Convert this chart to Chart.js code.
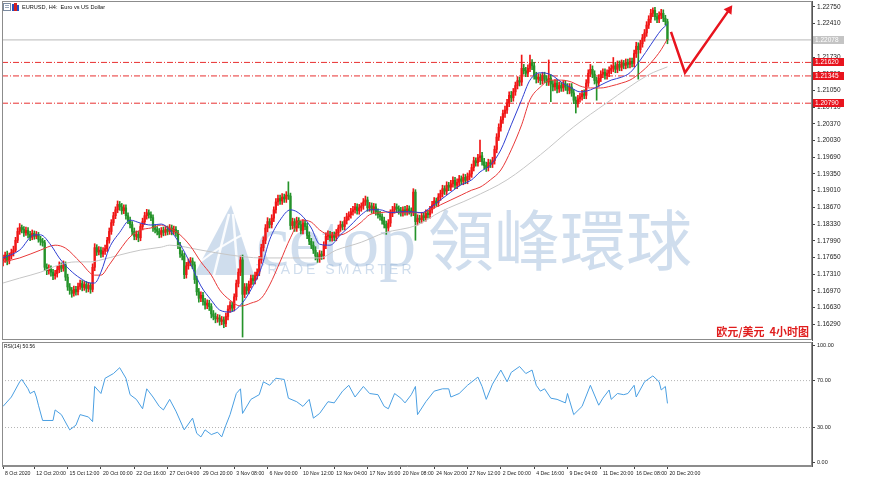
<!DOCTYPE html>
<html><head><meta charset="utf-8">
<script src="https://cdn.jsdelivr.net/npm/chart.js@4.4.1/dist/chart.umd.min.js"></script>
<style>
html,body{margin:0;padding:0;background:#fff;}
#wrap{position:relative;width:870px;height:478px;overflow:hidden;background:#fff;}
canvas{position:absolute;left:0;}
#c1{top:0;} #c2{top:341px;}
</style></head><body>
<div id="wrap">
<canvas id="c1" width="870" height="341"></canvas>
<canvas id="c2" width="870" height="137"></canvas>
</div>
<script>
// ---------------- DATA ----------------
const opens = [
1.1758,1.1762,1.1770,1.1758,1.1768,1.1775,1.1780,1.1800,1.1818,1.1826,
1.1822,1.1815,1.1820,1.1812,1.1806,1.1814,1.1808,1.1811,1.1802,1.1798,
1.1795,1.1745,1.1738,1.1742,1.1735,1.1728,1.1732,1.1740,1.1748,1.1743,
1.1750,1.1725,1.1705,1.1698,1.1692,1.1700,1.1695,1.1706,1.1712,1.1704,
1.1710,1.1702,1.1708,1.1700,1.1745,1.1785,1.1776,1.1780,1.1772,1.1778,
1.1783,1.1800,1.1818,1.1836,1.1850,1.1862,1.1873,1.1868,1.1860,1.1866,
1.1850,1.1840,1.1832,1.1818,1.1808,1.1812,1.1805,1.1828,1.1838,1.1850,
1.1856,1.1852,1.1846,1.1825,1.1822,1.1818,1.1812,1.1820,1.1816,1.1822,
1.1818,1.1825,1.1818,1.1822,1.1815,1.1790,1.1772,1.1768,1.1730,1.1748,
1.1755,1.1758,1.1750,1.1720,1.1695,1.1682,1.1688,1.1675,1.1668,1.1672,
1.1665,1.1650,1.1645,1.1640,1.1642,1.1635,1.1638,1.1630,1.1645,1.1660,
1.1668,1.1662,1.1685,1.1712,1.1735,1.1760,1.1690,1.1705,1.1698,1.1710,
1.1722,1.1718,1.1728,1.1735,1.1760,1.1785,1.1800,1.1825,1.1838,1.1832,
1.1845,1.1862,1.1878,1.1885,1.1880,1.1888,1.1884,1.1892,1.1890,1.1830,
1.1838,1.1825,1.1840,1.1832,1.1820,1.1835,1.1828,1.1810,1.1798,1.1790,
1.1780,1.1768,1.1762,1.1772,1.1768,1.1790,1.1808,1.1812,1.1805,1.1810,
1.1806,1.1815,1.1825,1.1832,1.1828,1.1840,1.1848,1.1852,1.1858,1.1862,
1.1868,1.1860,1.1866,1.1870,1.1878,1.1882,1.1866,1.1870,1.1862,1.1868,
1.1858,1.1852,1.1848,1.1840,1.1832,1.1825,1.1835,1.1855,1.1862,1.1868,
1.1864,1.1860,1.1856,1.1862,1.1858,1.1864,1.1860,1.1856,1.1898,1.1838,
1.1845,1.1842,1.1850,1.1846,1.1855,1.1852,1.1862,1.1872,1.1880,1.1876,
1.1888,1.1895,1.1905,1.1900,1.1912,1.1908,1.1915,1.1922,1.1912,1.1918,
1.1925,1.1920,1.1928,1.1922,1.1930,1.1935,1.1948,1.1962,1.1958,1.1968,
1.1972,1.1960,1.1952,1.1948,1.1958,1.1955,1.1962,1.1985,1.2010,1.2030,
1.2045,1.2058,1.2065,1.2080,1.2095,1.2090,1.2102,1.2115,1.2125,1.2122,
1.2150,1.2145,1.2140,1.2150,1.2160,1.2155,1.2135,1.2128,1.2132,1.2125,
1.2135,1.2128,1.2122,1.2130,1.2118,1.2112,1.2120,1.2108,1.2115,1.2110,
1.2118,1.2112,1.2105,1.2112,1.2100,1.2085,1.2078,1.2088,1.2092,1.2098,
1.2095,1.2120,1.2140,1.2148,1.2138,1.2125,1.2120,1.2130,1.2138,1.2142,
1.2135,1.2140,1.2146,1.2150,1.2155,1.2148,1.2158,1.2152,1.2160,1.2156,
1.2162,1.2158,1.2164,1.2160,1.2180,1.2195,1.2188,1.2200,1.2212,1.2222,
1.2238,1.2250,1.2262,1.2268,1.2255,1.2250,1.2258,1.2262,1.2252,1.2245];

const highs = [
1.1770,1.1776,1.1778,1.1774,1.1782,1.1788,1.1806,1.1825,1.1834,1.1831,
1.1828,1.1827,1.1826,1.1818,1.1821,1.1819,1.1818,1.1816,1.1808,1.1804,
1.1800,1.1752,1.1750,1.1748,1.1741,1.1739,1.1747,1.1756,1.1754,1.1758,
1.1756,1.1731,1.1712,1.1704,1.1707,1.1706,1.1713,1.1719,1.1718,1.1716,
1.1716,1.1714,1.1713,1.1752,1.1793,1.1791,1.1787,1.1786,1.1785,1.1790,
1.1806,1.1825,1.1842,1.1857,1.1868,1.1880,1.1879,1.1875,1.1872,1.1872,
1.1856,1.1847,1.1838,1.1825,1.1819,1.1818,1.1834,1.1845,1.1857,1.1863,
1.1862,1.1858,1.1852,1.1831,1.1828,1.1824,1.1826,1.1827,1.1828,1.1829,
1.1832,1.1831,1.1829,1.1828,1.1820,1.1796,1.1779,1.1774,1.1755,1.1762,
1.1765,1.1764,1.1756,1.1727,1.1702,1.1695,1.1694,1.1682,1.1679,1.1678,
1.1671,1.1657,1.1652,1.1649,1.1648,1.1645,1.1644,1.1652,1.1667,1.1675,
1.1674,1.1691,1.1719,1.1742,1.1768,1.1770,1.1712,1.1712,1.1717,1.1729,
1.1729,1.1735,1.1742,1.1767,1.1792,1.1807,1.1832,1.1846,1.1844,1.1852,
1.1868,1.1885,1.1892,1.1892,1.1895,1.1894,1.1899,1.1919,1.1896,1.1845,
1.1844,1.1847,1.1846,1.1839,1.1842,1.1841,1.1835,1.1817,1.1804,1.1797,
1.1787,1.1775,1.1779,1.1778,1.1797,1.1815,1.1819,1.1818,1.1816,1.1817,
1.1822,1.1831,1.1839,1.1838,1.1847,1.1855,1.1858,1.1865,1.1869,1.1875,
1.1874,1.1873,1.1876,1.1885,1.1890,1.1888,1.1877,1.1876,1.1875,1.1874,
1.1864,1.1859,1.1854,1.1847,1.1839,1.1842,1.1862,1.1869,1.1875,1.1874,
1.1870,1.1867,1.1868,1.1869,1.1871,1.1870,1.1866,1.1905,1.1903,1.1852,
1.1851,1.1857,1.1856,1.1862,1.1861,1.1869,1.1879,1.1887,1.1886,1.1895,
1.1902,1.1912,1.1911,1.1919,1.1918,1.1922,1.1929,1.1928,1.1925,1.1932,
1.1931,1.1935,1.1934,1.1937,1.1942,1.1955,1.1969,1.1968,1.1975,1.2004,
1.1979,1.1967,1.1959,1.1965,1.1964,1.1969,1.1992,1.2017,1.2037,1.2052,
1.2065,1.2073,1.2087,1.2102,1.2103,1.2109,1.2122,1.2133,1.2132,1.2177,
1.2158,1.2152,1.2157,1.2177,1.2168,1.2162,1.2142,1.2139,1.2139,1.2142,
1.2142,1.2135,1.2167,1.2137,1.2125,1.2127,1.2127,1.2122,1.2121,1.2125,
1.2125,1.2119,1.2119,1.2119,1.2107,1.2092,1.2095,1.2099,1.2105,1.2106,
1.2127,1.2147,1.2158,1.2155,1.2145,1.2132,1.2137,1.2145,1.2149,1.2149,
1.2147,1.2153,1.2157,1.2172,1.2162,1.2165,1.2165,1.2167,1.2166,1.2169,
1.2169,1.2171,1.2171,1.2187,1.2203,1.2202,1.2207,1.2219,1.2229,1.2245,
1.2257,1.2270,1.2273,1.2274,1.2262,1.2265,1.2270,1.2269,1.2258,1.2250];

const lows = [
1.1748,1.1755,1.1750,1.1752,1.1762,1.1768,1.1776,1.1795,1.1812,1.1815,
1.1808,1.1810,1.1805,1.1799,1.1801,1.1802,1.1803,1.1796,1.1790,1.1788,
1.1738,1.1730,1.1731,1.1727,1.1720,1.1721,1.1725,1.1734,1.1736,1.1737,
1.1718,1.1698,1.1690,1.1684,1.1686,1.1688,1.1689,1.1700,1.1697,1.1698,
1.1694,1.1695,1.1692,1.1695,1.1738,1.1769,1.1770,1.1765,1.1766,1.1771,
1.1777,1.1794,1.1812,1.1830,1.1844,1.1856,1.1861,1.1853,1.1854,1.1843,
1.1834,1.1825,1.1811,1.1801,1.1801,1.1797,1.1799,1.1821,1.1832,1.1843,
1.1845,1.1840,1.1818,1.1815,1.1811,1.1805,1.1806,1.1809,1.1810,1.1811,
1.1812,1.1811,1.1812,1.1808,1.1783,1.1765,1.1760,1.1722,1.1723,1.1741,
1.1748,1.1742,1.1712,1.1688,1.1674,1.1675,1.1668,1.1660,1.1661,1.1657,
1.1642,1.1638,1.1632,1.1633,1.1627,1.1628,1.1622,1.1624,1.1638,1.1653,
1.1655,1.1656,1.1678,1.1705,1.1728,1.1603,1.1683,1.1690,1.1691,1.1703,
1.1710,1.1711,1.1721,1.1728,1.1753,1.1778,1.1793,1.1817,1.1825,1.1825,
1.1838,1.1855,1.1871,1.1873,1.1873,1.1877,1.1877,1.1883,1.1822,1.1823,
1.1818,1.1818,1.1825,1.1813,1.1813,1.1821,1.1803,1.1791,1.1783,1.1773,
1.1760,1.1755,1.1755,1.1761,1.1762,1.1783,1.1801,1.1798,1.1798,1.1799,
1.1799,1.1808,1.1818,1.1821,1.1821,1.1833,1.1841,1.1845,1.1851,1.1855,
1.1853,1.1853,1.1859,1.1863,1.1871,1.1859,1.1859,1.1855,1.1855,1.1851,
1.1845,1.1841,1.1833,1.1825,1.1812,1.1818,1.1828,1.1848,1.1855,1.1857,
1.1853,1.1849,1.1849,1.1851,1.1851,1.1853,1.1849,1.1850,1.1800,1.1831,
1.1835,1.1835,1.1839,1.1839,1.1845,1.1845,1.1855,1.1865,1.1869,1.1869,
1.1881,1.1888,1.1893,1.1893,1.1901,1.1901,1.1908,1.1905,1.1905,1.1911,
1.1913,1.1913,1.1915,1.1915,1.1923,1.1928,1.1941,1.1951,1.1951,1.1960,
1.1953,1.1945,1.1940,1.1941,1.1948,1.1948,1.1955,1.1978,1.2003,1.2022,
1.2038,1.2050,1.2058,1.2072,1.2082,1.2083,1.2095,1.2108,1.2114,1.2115,
1.2138,1.2133,1.2133,1.2143,1.2147,1.2128,1.2120,1.2121,1.2117,1.2118,
1.2121,1.2115,1.2115,1.2082,1.2104,1.2105,1.2100,1.2101,1.2103,1.2103,
1.2105,1.2098,1.2098,1.2093,1.2078,1.2059,1.2071,1.2081,1.2085,1.2088,
1.2088,1.2113,1.2133,1.2131,1.2118,1.2085,1.2113,1.2123,1.2131,1.2128,
1.2128,1.2133,1.2139,1.2143,1.2141,1.2141,1.2145,1.2145,1.2149,1.2149,
1.2151,1.2151,1.2153,1.2153,1.2172,1.2128,1.2181,1.2193,1.2205,1.2215,
1.2231,1.2243,1.2255,1.2248,1.2243,1.2243,1.2251,1.2245,1.2238,1.2200];

const closes = [
1.1762,1.1770,1.1758,1.1768,1.1775,1.1780,1.1800,1.1818,1.1826,1.1822,
1.1815,1.1820,1.1812,1.1806,1.1814,1.1808,1.1811,1.1802,1.1798,1.1795,
1.1745,1.1738,1.1742,1.1735,1.1728,1.1732,1.1740,1.1748,1.1743,1.1750,
1.1725,1.1705,1.1698,1.1692,1.1700,1.1695,1.1706,1.1712,1.1704,1.1710,
1.1702,1.1708,1.1700,1.1745,1.1785,1.1776,1.1780,1.1772,1.1778,1.1783,
1.1800,1.1818,1.1836,1.1850,1.1862,1.1873,1.1868,1.1860,1.1866,1.1850,
1.1840,1.1832,1.1818,1.1808,1.1812,1.1805,1.1828,1.1838,1.1850,1.1856,
1.1852,1.1846,1.1825,1.1822,1.1818,1.1812,1.1820,1.1816,1.1822,1.1818,
1.1825,1.1818,1.1822,1.1815,1.1790,1.1772,1.1768,1.1730,1.1748,1.1755,
1.1758,1.1750,1.1720,1.1695,1.1682,1.1688,1.1675,1.1668,1.1672,1.1665,
1.1650,1.1645,1.1640,1.1642,1.1635,1.1638,1.1630,1.1645,1.1660,1.1668,
1.1662,1.1685,1.1712,1.1735,1.1760,1.1690,1.1705,1.1698,1.1710,1.1722,
1.1718,1.1728,1.1735,1.1760,1.1785,1.1800,1.1825,1.1838,1.1832,1.1845,
1.1862,1.1878,1.1885,1.1880,1.1888,1.1884,1.1892,1.1890,1.1830,1.1838,
1.1825,1.1840,1.1832,1.1820,1.1835,1.1828,1.1810,1.1798,1.1790,1.1780,
1.1768,1.1762,1.1772,1.1768,1.1790,1.1808,1.1812,1.1805,1.1810,1.1806,
1.1815,1.1825,1.1832,1.1828,1.1840,1.1848,1.1852,1.1858,1.1862,1.1868,
1.1860,1.1866,1.1870,1.1878,1.1882,1.1866,1.1870,1.1862,1.1868,1.1858,
1.1852,1.1848,1.1840,1.1832,1.1825,1.1835,1.1855,1.1862,1.1868,1.1864,
1.1860,1.1856,1.1862,1.1858,1.1864,1.1860,1.1856,1.1898,1.1838,1.1845,
1.1842,1.1850,1.1846,1.1855,1.1852,1.1862,1.1872,1.1880,1.1876,1.1888,
1.1895,1.1905,1.1900,1.1912,1.1908,1.1915,1.1922,1.1912,1.1918,1.1925,
1.1920,1.1928,1.1922,1.1930,1.1935,1.1948,1.1962,1.1958,1.1968,1.1972,
1.1960,1.1952,1.1948,1.1958,1.1955,1.1962,1.1985,1.2010,1.2030,1.2045,
1.2058,1.2065,1.2080,1.2095,1.2090,1.2102,1.2115,1.2125,1.2122,1.2150,
1.2145,1.2140,1.2150,1.2160,1.2155,1.2135,1.2128,1.2132,1.2125,1.2135,
1.2128,1.2122,1.2130,1.2118,1.2112,1.2120,1.2108,1.2115,1.2110,1.2118,
1.2112,1.2105,1.2112,1.2100,1.2085,1.2078,1.2088,1.2092,1.2098,1.2095,
1.2120,1.2140,1.2148,1.2138,1.2125,1.2120,1.2130,1.2138,1.2142,1.2135,
1.2140,1.2146,1.2150,1.2155,1.2148,1.2158,1.2152,1.2160,1.2156,1.2162,
1.2158,1.2164,1.2160,1.2180,1.2195,1.2188,1.2200,1.2212,1.2222,1.2238,
1.2250,1.2262,1.2268,1.2255,1.2250,1.2258,1.2262,1.2252,1.2245,1.2208];

// moving averages: [bar index, price]
const maBlue = [[0,1.1764],[8,1.1780],[15,1.1811],[18,1.1811],[23,1.1790],[27,1.1764],[32,1.1740],[37,1.1723],[42,1.1713],[44,1.1713],[47,1.1735],[51,1.1784],[56,1.1816],[61,1.1841],[66,1.1835],[71,1.1831],[76,1.1833],[80,1.1821],[85,1.1792],[90,1.1752],[95,1.1707],[100,1.1678],[104,1.1658],[109,1.1654],[114,1.1668],[119,1.1699],[124,1.1744],[128,1.1801],[133,1.1841],[138,1.1862],[143,1.1852],[148,1.1825],[152,1.1792],[157,1.1790],[162,1.1811],[167,1.1831],[172,1.1852],[176,1.1862],[181,1.1862],[186,1.1856],[191,1.1858],[196,1.1858],[201,1.1856],[205,1.1866],[210,1.1882],[215,1.1898],[220,1.1913],[225,1.1923],[229,1.1939],[234,1.1953],[239,1.1984],[244,1.2035],[249,1.2086],[253,1.2126],[258,1.2141],[263,1.2137],[268,1.2122],[273,1.2110],[277,1.2102],[282,1.2106],[287,1.2116],[292,1.2126],[297,1.2132],[301,1.2141],[306,1.2167],[311,1.2198],[316,1.2228],[319,1.2240]];
const maRed = [[0,1.1756],[8,1.1764],[18,1.1780],[25,1.1790],[30,1.1784],[37,1.1756],[44,1.1729],[47,1.1729],[51,1.1750],[56,1.1780],[61,1.1807],[66,1.1821],[71,1.1825],[76,1.1831],[80,1.1825],[85,1.1811],[90,1.1788],[95,1.1756],[100,1.1729],[104,1.1699],[109,1.1678],[114,1.1666],[119,1.1672],[124,1.1682],[128,1.1709],[133,1.1756],[138,1.1805],[143,1.1841],[148,1.1837],[152,1.1821],[157,1.1811],[162,1.1811],[167,1.1821],[172,1.1837],[176,1.1852],[181,1.1856],[186,1.1858],[191,1.1856],[196,1.1856],[201,1.1856],[205,1.1862],[210,1.1872],[215,1.1882],[220,1.1892],[225,1.1902],[229,1.1908],[234,1.1923],[239,1.1943],[244,1.1984],[249,1.2035],[253,1.2086],[258,1.2112],[263,1.2126],[268,1.2126],[273,1.2122],[277,1.2114],[282,1.2110],[287,1.2110],[292,1.2114],[297,1.2120],[301,1.2126],[306,1.2141],[311,1.2161],[316,1.2188],[319,1.2210]];
const maGray = [[0,1.1713],[8,1.1723],[18,1.1735],[27,1.1750],[35,1.1756],[42,1.1756],[47,1.1760],[56,1.1770],[66,1.1780],[76,1.1786],[80,1.1790],[95,1.1780],[109,1.1770],[124,1.1764],[138,1.1764],[152,1.1764],[160,1.1780],[172,1.1796],[183,1.1815],[199,1.1831],[210,1.1858],[225,1.1886],[242,1.1923],[258,1.1974],[274,1.2031],[290,1.2080],[310,1.2137],[319,1.2153]];

// RSI(14): [bar index, value]
const rsi = [[0,48],[4,56],[8,69],[9,71],[12,63],[13,59],[15,61],[16,56],[17,49],[19,36],[24,36],[25,45],[28,41],[32,28],[35,32],[37,41],[41,39],[43,35],[44,65],[47,59],[49,72],[53,76],[56,81],[59,72],[61,58],[64,54],[67,46],[69,63],[72,56],[75,48],[77,45],[80,54],[83,44],[87,28],[91,38],[93,25],[95,22],[97,28],[100,24],[103,26],[105,22],[107,32],[109,41],[112,59],[114,63],[115,42],[119,54],[123,58],[125,69],[128,66],[131,72],[135,71],[137,55],[141,52],[144,48],[147,54],[149,38],[152,42],[156,52],[159,51],[163,61],[166,66],[169,56],[173,65],[176,59],[180,58],[183,48],[185,46],[188,59],[191,55],[193,51],[196,58],[198,65],[199,41],[203,52],[207,61],[211,63],[214,63],[215,56],[219,59],[223,66],[228,73],[230,65],[232,54],[235,67],[239,79],[242,69],[244,77],[248,82],[251,76],[254,79],[256,66],[258,61],[260,63],[263,55],[266,54],[270,51],[271,59],[274,41],[278,48],[282,66],[286,49],[288,55],[291,62],[292,54],[295,59],[298,58],[300,59],[303,66],[304,56],[308,69],[312,74],[315,69],[316,62],[318,65],[319,50.56]];
const rsiLevels = [70, 30];
const rsiTicks = [100, 70, 30, 0];

const yTicks = [1.22750,1.22410,1.22070,1.21730,1.21390,1.21050,1.20710,1.20370,1.20030,1.19690,1.19350,1.19010,1.18670,1.18330,1.17990,1.17650,1.17310,1.16970,1.16630,1.16290];
const levelPrices = [1.21620, 1.21345, 1.20790];
const currentPrice = 1.22078;
const arrowIdx = [320.7, 327.4, 348.6];
const arrowPrice = [1.2224, 1.2141, 1.2269];

const xLabelIdx = [0,15,31,47,63,79,95,111,127,143,159,175,191,207,223,239,255,271,287,303,319];
const xLabels = ['8 Oct 2020','12 Oct 20:00','15 Oct 12:00','20 Oct 00:00','22 Oct 16:00','27 Oct 04:00','29 Oct 20:00','3 Nov 08:00','6 Nov 00:00','10 Nov 12:00','13 Nov 04:00','17 Nov 16:00','20 Nov 08:00','24 Nov 20:00','27 Nov 12:00','2 Dec 00:00','4 Dec 16:00','9 Dec 04:00','11 Dec 20:00','16 Dec 08:00','20 Dec 20:00'];

const titleText = 'EURUSD, H4:  Euro vs US Dollar';
const rsiTitle = 'RSI(14) 50.56';
const noteText = '欧元/美元  4小时图';

// ---------------- STYLE / CHARTS ----------------
Chart.defaults.font.family = '"Liberation Sans", Arial, sans-serif';
const UP = '#f01616', DOWN = '#25932a';
const X_MIN = -0.5, X_MAX = 388.4;
const candleColors = closes.map((c, i) => c >= opens[i] ? UP : DOWN);
const pts = arr => arr.map(([x, y]) => ({x, y}));
const hline = v => [{x: X_MIN, y: v}, {x: X_MAX, y: v}];
const noPadY = s => { s.width = 58; s.paddingTop = 0; s.paddingBottom = 0; };

const framePlugin = {
  id: 'frame',
  afterDraw(chart) {
    const a = chart.chartArea, ctx = chart.ctx;
    ctx.save();
    ctx.strokeStyle = '#8c8c8c'; ctx.lineWidth = 1;
    ctx.strokeRect(a.left + 0.5, a.top + 0.5, a.right - a.left - 1, a.bottom - a.top - 1);
    ctx.restore();
  }
};

const watermark = {
  id: 'wm',
  beforeDatasetsDraw(chart) {
    const ctx = chart.ctx;
    ctx.save();
    ctx.fillStyle = 'rgba(140,175,212,0.42)';
    ctx.beginPath(); ctx.moveTo(231, 205); ctx.lineTo(254, 275); ctx.lineTo(194, 275); ctx.closePath(); ctx.fill();
    ctx.strokeStyle = 'rgba(255,255,255,0.9)'; ctx.lineWidth = 2.5;
    ctx.beginPath(); ctx.moveTo(229, 214); ctx.lineTo(214, 275); ctx.moveTo(233, 214); ctx.lineTo(238, 275); ctx.stroke();
    ctx.lineWidth = 2; ctx.beginPath(); ctx.moveTo(200, 262); ctx.quadraticCurveTo(240, 230, 300, 212); ctx.stroke();
    ctx.fillStyle = 'rgba(140,175,212,0.42)';
    ctx.textBaseline = 'alphabetic';
    ctx.font = '74px "Liberation Serif", serif';
    ctx.fillText('cetop', 256, 266);
    ctx.font = '66px "Noto Sans CJK TC"';
    ctx.textBaseline = 'middle';
    ctx.fillText('領峰環球', 428, 240);
    ctx.textBaseline = 'alphabetic';
    ctx.font = '14px "Liberation Sans"';
    ctx.letterSpacing = '3px';
    ctx.fillText('TRADE SMARTER', 256, 274);
    ctx.restore();
  }
};

const mainDecor = {
  id: 'mainDecor',
  afterDraw(chart) {
    const ctx = chart.ctx, a = chart.chartArea, ys = chart.scales.y;
    ctx.save();
    ctx.strokeStyle = '#7a8aa0'; ctx.lineWidth = 1; ctx.strokeRect(3.5, 3.5, 7, 7);
    ctx.fillStyle = '#9aa8bb'; ctx.fillRect(5, 5, 4, 1); ctx.fillRect(5, 7, 4, 1);
    ctx.fillStyle = '#2450c0'; ctx.fillRect(12, 4, 2, 7); ctx.fillRect(17, 5, 2, 6);
    ctx.fillStyle = '#d42020'; ctx.fillRect(14, 3, 3, 8);
    ctx.fillStyle = '#111'; ctx.font = '5.6px "Liberation Sans"'; ctx.textBaseline = 'middle'; ctx.textAlign = 'left';
    ctx.fillText(titleText, 22, 7.5);
    ctx.font = '6.5px "Liberation Sans"';
    const box = (v, bg, fg) => {
      const py = Math.round(ys.getPixelForValue(v));
      ctx.fillStyle = bg; ctx.fillRect(a.right + 1, py - 4, 31, 8);
      ctx.fillStyle = fg; ctx.fillText(v.toFixed(5), a.right + 3, py + 0.5);
    };
    box(currentPrice, '#c4c4c4', '#ffffff');
    levelPrices.forEach(v => box(v, '#e8141e', '#ffffff'));
    ctx.fillStyle = '#e01e1e'; ctx.font = 'bold 11px "Noto Sans CJK SC"'; ctx.textAlign = 'right';
    ctx.fillText(noteText, 809, 332);
    ctx.restore();
  }
};

new Chart(document.getElementById('c1'), {
  type: 'bar',
  data: { datasets: [
    { type: 'line', data: pts(arrowIdx.map((x, i) => [x, arrowPrice[i]])), borderColor: '#e8141e', borderWidth: 2.5,
      pointRadius: [0, 0, 5.5], pointStyle: 'triangle', rotation: 35, pointBackgroundColor: '#e8141e', pointBorderWidth: 0, order: 0 },
    { type: 'line', data: pts(maBlue), borderColor: '#2f3fd2', borderWidth: 1, pointRadius: 0, cubicInterpolationMode: 'monotone', order: 1 },
    { type: 'line', data: pts(maRed), borderColor: '#e83838', borderWidth: 1, pointRadius: 0, cubicInterpolationMode: 'monotone', order: 1 },
    { type: 'line', data: pts(maGray), borderColor: '#c6c6c6', borderWidth: 1, pointRadius: 0, cubicInterpolationMode: 'monotone', order: 1 },
    { data: closes.map((c, i) => ({x: i, y: [opens[i], c]})), backgroundColor: candleColors, barThickness: 1.6, minBarLength: 1, grouped: false, order: 2 },
    { data: closes.map((c, i) => ({x: i, y: [lows[i], highs[i]]})), backgroundColor: candleColors, barThickness: 1, grouped: false, order: 3 },
    ...levelPrices.map(v => ({ type: 'line', data: hline(v), borderColor: '#e83030', borderWidth: 1, borderDash: [6, 2, 1, 2], pointRadius: 0, order: 4 })),
    { type: 'line', data: hline(currentPrice), borderColor: '#b8b8b8', borderWidth: 1, pointRadius: 0, order: 4 }
  ]},
  options: {
    responsive: false, animation: false, devicePixelRatio: 1, events: [],
    layout: { autoPadding: false, padding: { left: 2, top: 1, right: 0, bottom: 1 } },
    plugins: { legend: { display: false }, tooltip: { enabled: false } },
    scales: {
      x: { type: 'linear', min: X_MIN, max: X_MAX, display: false, offset: false },
      y: { position: 'right', min: 1.1597, max: 1.2287, beginAtZero: false,
        afterBuildTicks: s => { s.ticks = yTicks.map(v => ({value: v})); },
        afterFit: noPadY,
        ticks: { autoSkip: false, font: { size: 6.5 }, color: '#1a1a1a', padding: 2, callback: v => Number(v).toFixed(5) },
        grid: { drawOnChartArea: false, drawTicks: true, tickLength: 3, color: '#444' },
        border: { color: '#555' } }
    }
  },
  plugins: [watermark, framePlugin, mainDecor]
});

const rsiDecor = {
  id: 'rsiDecor',
  afterDraw(chart) {
    const ctx = chart.ctx, a = chart.chartArea;
    ctx.save();
    ctx.fillStyle = '#111'; ctx.font = '5px "Liberation Sans"'; ctx.textBaseline = 'middle'; ctx.textAlign = 'left';
    ctx.fillText(rsiTitle, a.left + 2, a.top + 5);
    ctx.restore();
  }
};

new Chart(document.getElementById('c2'), {
  type: 'line',
  data: { datasets: [
    { data: pts(rsi), borderColor: '#4a9fe2', borderWidth: 1, pointRadius: 0, tension: 0, order: 1 },
    ...rsiLevels.map(v => ({ data: hline(v), borderColor: '#b4b4b4', borderWidth: 1, borderDash: [1, 2], pointRadius: 0, order: 2 }))
  ]},
  options: {
    responsive: false, animation: false, devicePixelRatio: 1, events: [],
    layout: { autoPadding: false, padding: { left: 2, top: 1, right: 0, bottom: 0 } },
    plugins: { legend: { display: false }, tooltip: { enabled: false } },
    scales: {
      x: { type: 'linear', min: X_MIN, max: X_MAX, offset: false,
        afterBuildTicks: s => { s.ticks = xLabelIdx.map(v => ({value: v})); },
        afterFit: s => { s.height = 12; s.paddingLeft = 0; s.paddingRight = 0; },
        ticks: { autoSkip: false, maxRotation: 0, minRotation: 0, align: 'start', labelOffset: 2, padding: 1,
          font: { size: 5.2 }, color: '#1a1a1a', callback: (v, i) => xLabels[i] },
        grid: { drawOnChartArea: false, drawTicks: true, tickLength: 3, color: '#444' },
        border: { color: '#8c8c8c' } },
      y: { position: 'right', min: -2.8, max: 102.9, beginAtZero: false,
        afterBuildTicks: s => { s.ticks = rsiTicks.map(v => ({value: v})); },
        afterFit: noPadY,
        ticks: { autoSkip: false, font: { size: 5.5 }, color: '#1a1a1a', padding: 2, callback: v => Number(v).toFixed(2) },
        grid: { drawOnChartArea: false, drawTicks: true, tickLength: 3, color: '#444' },
        border: { color: '#555' } }
    }
  },
  plugins: [framePlugin, rsiDecor]
});
</script>
</body></html>
